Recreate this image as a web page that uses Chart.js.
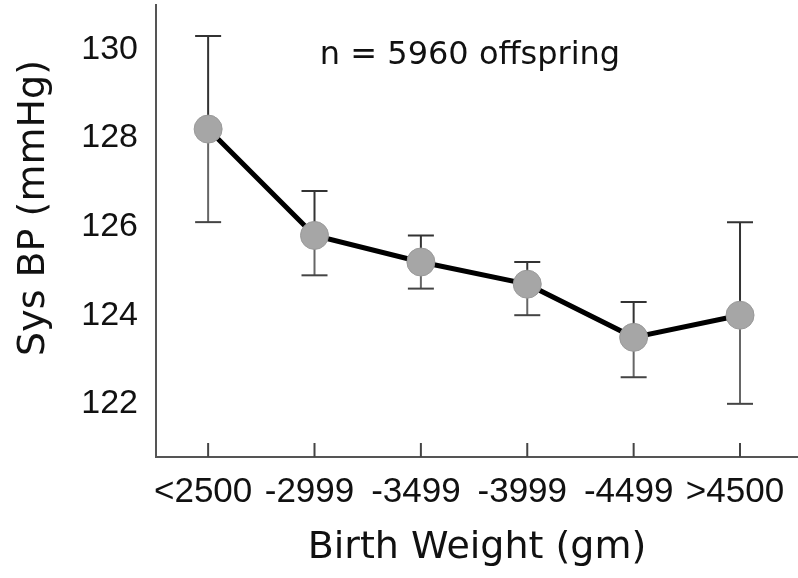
<!DOCTYPE html>
<html>
  <head>
    <title>Sys BP by Birth Weight</title>
    <style>
      body { margin: 0; background: #ffffff; }
      #wrap { width: 798px; height: 578px; }
    </style>
  </head>
  <body>
    <div id="wrap"><canvas id="bpChart"></canvas></div>

    <script src="https://cdn.jsdelivr.net/npm/chart.js"></script>
    <script>
      // Datos
      var categories = ["<2500", "-2999", "-3499", "-3999", "-4499", ">4500"];
      var meanBP = [128.2, 125.8, 125.2, 124.7, 123.5, 124.0];
      var lowerBP = [126.1, 124.9, 124.6, 124.0, 122.6, 122.0];
      var upperBP = [130.3, 126.8, 125.8, 125.2, 124.3, 126.1];
      var yTicks = [122, 124, 126, 128, 130];
      var noteText = "n = 5960 offspring";
      var yTitle = "Sys BP (mmHg)";

      var handFont = "'DejaVu Sans', sans-serif";

      var points = meanBP.map(function (v, i) {
        return { x: i, y: v };
      });

      // barras de error (detras de los puntos)
      var errorBars = {
        id: "errorBars",
        beforeDatasetsDraw: function (chart) {
          var ctx = chart.ctx;
          var xs = chart.scales.x;
          var ys = chart.scales.y;
          ctx.save();
          ctx.lineWidth = 2;
          for (var i = 0; i < categories.length; i++) {
            var px = xs.getPixelForValue(i);
            var top = ys.getPixelForValue(upperBP[i]);
            var mid = ys.getPixelForValue(meanBP[i]);
            var bot = ys.getPixelForValue(lowerBP[i]);
            ctx.strokeStyle = "#333333";
            ctx.beginPath();
            ctx.moveTo(px, top);
            ctx.lineTo(px, mid);
            ctx.moveTo(px - 13, top);
            ctx.lineTo(px + 13, top);
            ctx.stroke();
            ctx.strokeStyle = "#666666";
            ctx.beginPath();
            ctx.moveTo(px, mid);
            ctx.lineTo(px, bot);
            ctx.stroke();
            ctx.strokeStyle = "#444444";
            ctx.beginPath();
            ctx.moveTo(px - 13, bot);
            ctx.lineTo(px + 13, bot);
            ctx.stroke();
          }
          // marcas hacia dentro en el eje x
          var b = chart.chartArea.bottom;
          ctx.strokeStyle = "#444444";
          for (var j = 0; j < categories.length; j++) {
            var tx = xs.getPixelForValue(j);
            ctx.beginPath();
            ctx.moveTo(tx, b - 14);
            ctx.lineTo(tx, b);
            ctx.stroke();
          }
          ctx.restore();
        },
        afterDraw: function (chart) {
          var ctx = chart.ctx;
          ctx.save();
          ctx.fillStyle = "#111111";
          ctx.font = "32px " + handFont;
          ctx.textAlign = "center";
          ctx.textBaseline = "middle";
          ctx.fillText(noteText, 470, 56);
          // titulo del eje y
          ctx.translate(34, 208);
          ctx.rotate(-Math.PI / 2);
          ctx.font = "38px " + handFont;
          ctx.fillText(yTitle, 0, 0);
          ctx.restore();
        },
      };

      new Chart(document.getElementById("bpChart"), {
        type: "line",
        data: {
          datasets: [
            {
              data: points,
              borderColor: "#000000",
              borderWidth: 5,
              tension: 0,
              pointRadius: 14,
              pointHoverRadius: 14,
              pointBackgroundColor: "#a6a6a6",
              pointBorderColor: "#999999",
              pointBorderWidth: 1,
            },
          ],
        },
        options: {
          responsive: true,
          maintainAspectRatio: false,
          animation: false,
          layout: {
            autoPadding: false,
            padding: { top: 5, right: 0, bottom: 0, left: 0 },
          },
          plugins: {
            legend: { display: false },
            tooltip: { enabled: false },
          },
          scales: {
            x: {
              type: "linear",
              min: -0.49,
              max: 5.545,
              afterFit: function (s) {
                s.height = 121;
                s.paddingLeft = 0;
                s.paddingRight = 0;
              },
              afterBuildTicks: function (s) {
                s.ticks = categories.map(function (c, i) {
                  return { value: i };
                });
              },
              ticks: {
                callback: function (v) {
                  return categories[v];
                },
                color: "#111111",
                padding: 14,
                labelOffset: -5,
                maxRotation: 0,
                autoSkip: false,
                font: { family: "'Liberation Sans', Arial, sans-serif", size: 35 },
              },
              grid: { drawOnChartArea: false, drawTicks: false },
              border: { display: true, color: "#555555", width: 2 },
              title: {
                display: true,
                text: "Birth Weight (gm)",
                color: "#111111",
                font: { family: handFont, size: 38 },
                padding: { top: 0, bottom: 7 },
              },
            },
            y: {
              min: 120.8,
              max: 131,
              afterFit: function (s) {
                s.width = 156;
                s.paddingTop = 0;
                s.paddingBottom = 0;
              },
              afterBuildTicks: function (s) {
                s.ticks = yTicks.map(function (v) {
                  return { value: v };
                });
              },
              ticks: {
                color: "#111111",
                padding: 18,
                font: { family: "'Liberation Sans', Arial, sans-serif", size: 34 },
              },
              grid: { drawOnChartArea: false, drawTicks: false },
              border: { display: true, color: "#555555", width: 2 },
            },
          },
        },
        plugins: [errorBars],
      });
    </script>
  </body>
</html>
